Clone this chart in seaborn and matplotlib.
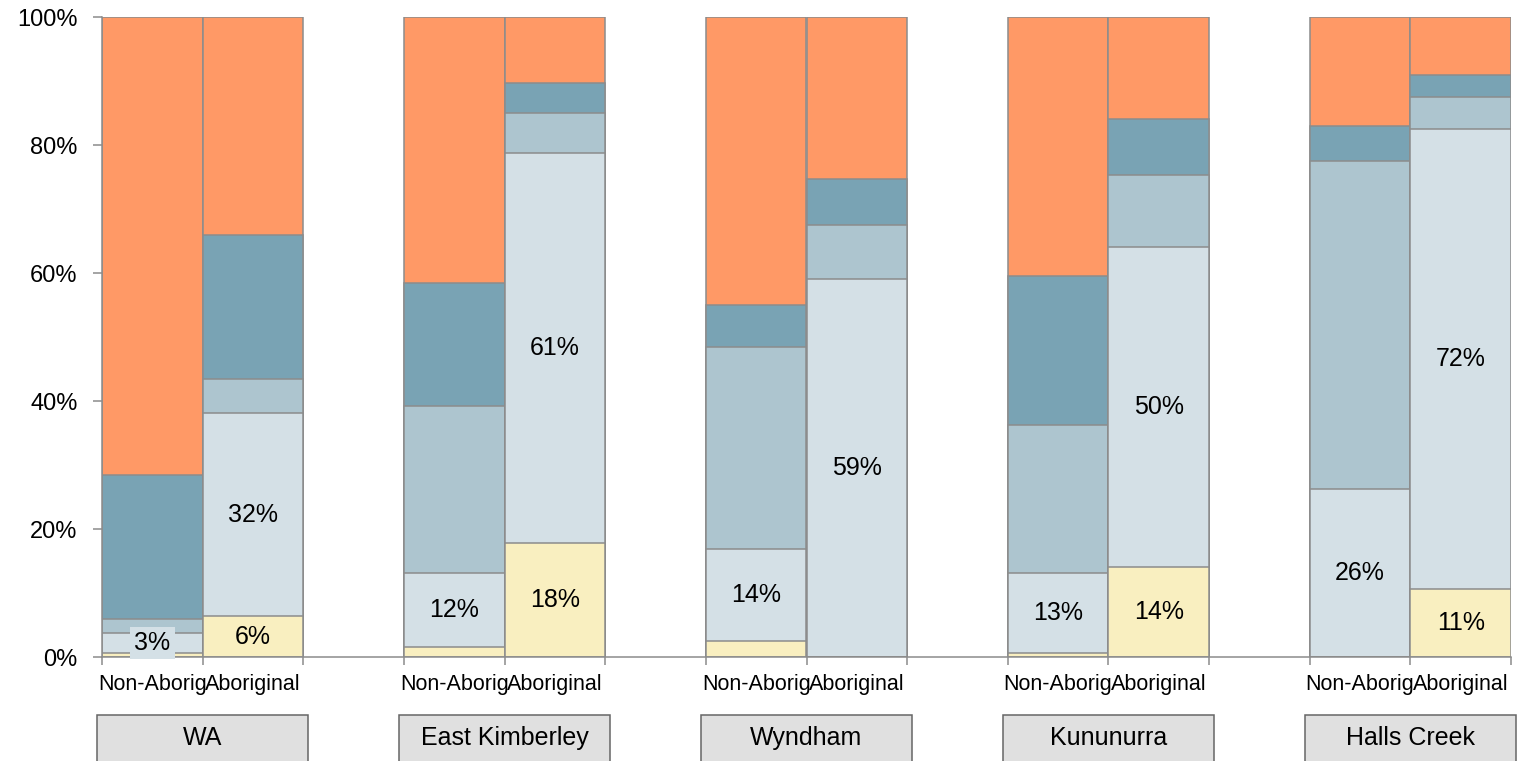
import matplotlib
matplotlib.use("Agg")
import matplotlib.pyplot as plt
from matplotlib.patches import Rectangle
import seaborn as sns

# regions and bar labels
regions = ["WA", "East Kimberley", "Wyndham", "Kununurra", "Halls Creek"]
groups = ["Non-Aborig", "Aboriginal"]

# segment shares (%) per bar, bottom to top, order: WA Non, WA Abor, EK Non, ...
yellow = [0.6, 6.4, 1.6, 17.8, 2.5, 0.0, 0.6, 14.1, 0.0, 10.6]
light = [3.2, 31.7, 11.6, 61.0, 14.4, 59.1, 12.6, 50.0, 26.25, 71.9]
medium = [2.1, 5.3, 26.0, 6.2, 31.5, 8.4, 23.05, 11.2, 51.25, 5.0]
dark = [22.5, 22.5, 19.3, 4.7, 6.6, 7.2, 23.25, 8.8, 5.5, 3.4]
orange = [71.6, 34.1, 41.5, 10.3, 45.0, 25.3, 40.5, 15.9, 17.0, 9.1]

layers = [yellow, light, medium, dark, orange]
colors = ["#F9EFC0", "#D4E0E6", "#ADC5CF", "#79A3B4", "#FF9966"]
edge = "#8C8C8C"
text_kw = dict(fontsize=18, color="black")


def cumulative(series_list):
    """running totals of the stacked layers, one list per layer"""
    tops = []
    running = [0.0] * len(series_list[0])
    for s in series_list:
        running = [r + v for r, v in zip(running, s)]
        tops.append(running)
    return tops


def main():
    sns.set_theme(style="white")
    plt.rcParams["font.family"] = ["Liberation Sans", "DejaVu Sans"]

    fig = plt.figure(figsize=(15.34, 7.61), dpi=100)
    ax = fig.add_axes([102 / 1534, 104 / 761, 1409 / 1534, 640 / 761])

    pos = [3 * g + i for g in range(len(regions)) for i in range(len(groups))]
    tops = cumulative(layers)

    # draw from the tallest layer down so each lower layer overlays the one above
    for top, c in zip(reversed(tops), reversed(colors)):
        sns.barplot(x=pos, y=top, native_scale=True, width=1, color=c, saturation=1,
                    edgecolor=edge, linewidth=1.1, errorbar=None, ax=ax)

    ax.set_xlim(-0.5, pos[-1] + 0.5)
    ax.set_ylim(0, 100)

    # value labels: light segment always, yellow segment when big enough
    for j, p in enumerate(pos):
        lo = yellow[j]
        v = light[j]
        kw = dict(text_kw)
        if v < 5:
            kw["bbox"] = dict(facecolor=colors[1], edgecolor="none", pad=3)
        ax.text(p, lo + v / 2, f"{int(v + 0.5)}%", ha="center", va="center", **kw)
        if yellow[j] >= 5:
            ax.text(p, yellow[j] / 2, f"{int(yellow[j] + 0.5)}%", ha="center",
                    va="center", **text_kw)

    # axis styling
    for side in ["top", "right"]:
        ax.spines[side].set_visible(False)
    for side in ["left", "bottom"]:
        ax.spines[side].set_color(edge)
        ax.spines[side].set_linewidth(1.1)

    ax.set_yticks(range(0, 101, 20))
    ax.set_yticklabels([f"{t}%" for t in range(0, 101, 20)], fontsize=17)
    ax.tick_params(axis="y", direction="out", length=6.5, width=1.1, color=edge,
                   pad=11, left=True, labelcolor="black")

    edges = sorted({p - 0.5 for p in pos} | {p + 0.5 for p in pos})
    ax.set_xticks(edges)
    ax.set_xticklabels([])
    ax.set_xticks(pos, minor=True)
    ax.set_xticklabels(groups * len(regions), minor=True, fontsize=15.5)
    ax.tick_params(axis="x", which="major", direction="out", length=6, width=1.1,
                   color=edge, bottom=True)
    ax.tick_params(axis="x", which="minor", length=0, pad=12, labelcolor="black")
    ax.set_xlabel("")
    ax.set_ylabel("")

    # region strips below the axis
    for g, name in enumerate(regions):
        cx = 3 * g + 0.5
        ax.add_patch(Rectangle((cx - 1.05, -18), 2.1, 8.94, facecolor="#E0E0E0",
                               edgecolor="#666666", linewidth=1.1, clip_on=False))
        ax.text(cx, -12.66, name, ha="center", va="center", fontsize=18,
                color="black")

    fig.savefig("out.png", dpi=100)


if __name__ == "__main__":
    main()
